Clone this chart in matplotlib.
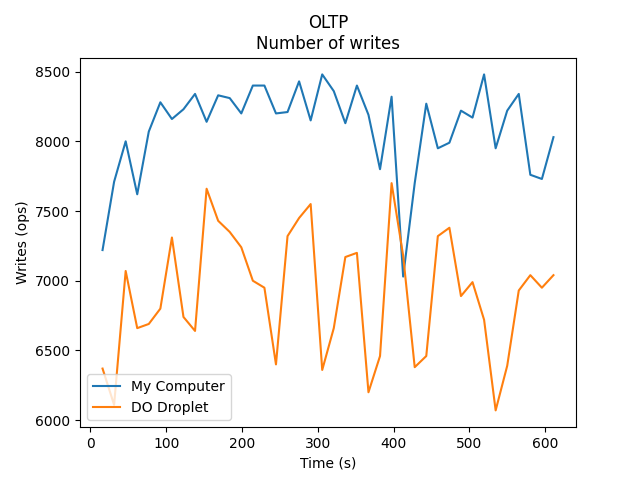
import numpy as np
import matplotlib
matplotlib.use("Agg")
import matplotlib.pyplot as plt

time_s = np.linspace(16, 611, 40)
my_computer = [7220, 7710, 8000, 7620, 8070, 8280, 8160, 8230, 8340, 8140,
               8330, 8310, 8200, 8400, 8400, 8200, 8210, 8430, 8150, 8480,
               8360, 8130, 8400, 8190, 7800, 8320, 7030, 7700, 8270, 7950,
               7990, 8220, 8170, 8480, 7950, 8220, 8340, 7760, 7730, 8030]
do_droplet = [6370, 6110, 7070, 6660, 6690, 6800, 7310, 6740, 6640, 7660,
              7430, 7350, 7240, 7000, 6950, 6400, 7320, 7450, 7550, 6360,
              6660, 7170, 7200, 6200, 6460, 7700, 7180, 6380, 6460, 7320,
              7380, 6890, 6990, 6720, 6070, 6390, 6930, 7040, 6950, 7040]

fig, ax = plt.subplots(figsize=(6.4, 4.8), dpi=100)
ax.plot(time_s, my_computer, label="My Computer")
ax.plot(time_s, do_droplet, label="DO Droplet")
ax.set_title("OLTP\nNumber of writes")
ax.set_xlabel("Time (s)")
ax.set_ylabel("Writes (ops)")
ax.legend(loc="lower left")
fig.savefig("out.png")
